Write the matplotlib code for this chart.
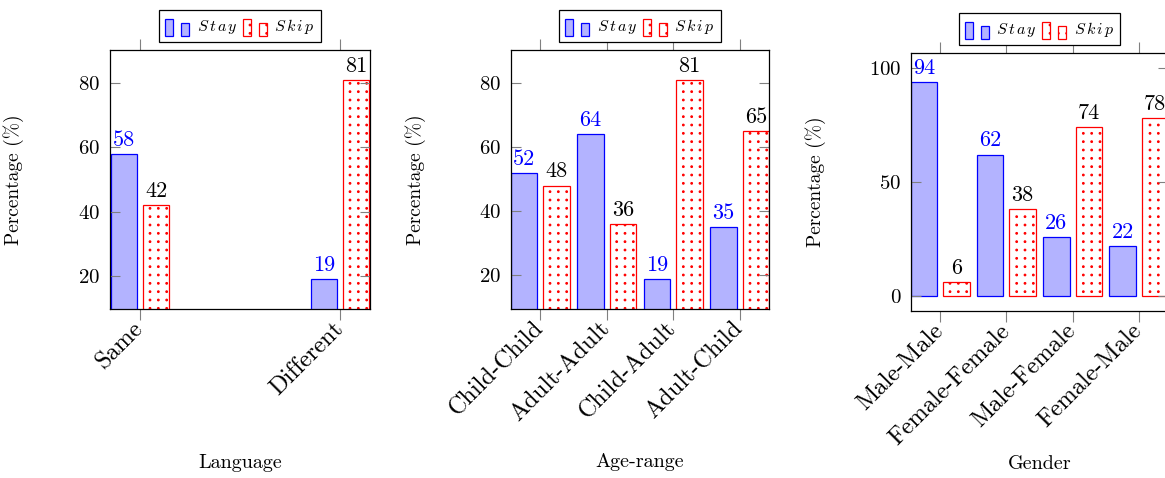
import matplotlib
matplotlib.use("Agg")
import matplotlib.pyplot as plt
import matplotlib.hatch as mhatch
import numpy as np
from matplotlib.patches import Rectangle
from matplotlib.legend_handler import HandlerBase

plt.rcParams["font.family"] = "cmr10"
plt.rcParams["mathtext.fontset"] = "cm"
plt.rcParams["axes.formatter.use_mathtext"] = True
plt.rcParams["hatch.linewidth"] = 0.8

# data
lang_cats = ["Same", "Different"]
lang_stay = [58, 19]
lang_skip = [42, 81]

age_cats = ["Child-Child", "Adult-Adult", "Child-Adult", "Adult-Child"]
age_stay = [52, 64, 19, 35]
age_skip = [48, 36, 81, 65]

gender_cats = ["Male-Male", "Female-Female", "Male-Female", "Female-Male"]
gender_stay = [94, 62, 26, 22]
gender_skip = [6, 38, 74, 78]

W, H = 1165, 478
STAY_FACE = "#b3b3ff"
TICK_GRAY = "#808080"


class GridDots(mhatch.SmallFilledCircles):
    # '.' hatch on a square grid (pgfplots "dots" pattern) instead of staggered rows
    def __init__(self, hatch, density):
        super().__init__(hatch, density)
        if self.num_rows:
            self.num_shapes = (self.num_rows + 1) ** 2
            self.num_vertices = self.num_shapes * len(self.shape_vertices)

    def set_vertices_and_codes(self, vertices, codes):
        offset = 1.0 / self.num_rows
        shape = self.shape_vertices * offset * self.size
        verts, cods = [], []
        for row in range(self.num_rows + 1):
            for col in np.linspace(0, 1, self.num_rows + 1):
                verts.append(shape + [col, row * offset])
                cods.append(self.shape_codes)
        np.concatenate(verts, out=vertices)
        np.concatenate(cods, out=codes)


mhatch._hatch_types[mhatch._hatch_types.index(mhatch.SmallFilledCircles)] = GridDots


class TwoBars(HandlerBase):
    # pgfplots-style ybar legend: a tall and a short bar
    def create_artists(self, legend, orig_handle, xdescent, ydescent,
                       width, height, fontsize, trans):
        w = width / 3
        y0 = -ydescent - 0.1 * height
        big = Rectangle((-xdescent, y0), w, height)
        small = Rectangle((-xdescent + width - w, y0), w, height * 0.72)
        for r in (big, small):
            r.update_from(orig_handle)
            r.set_transform(trans)
            r.set_clip_on(False)
        return [big, small]


def panel(fig, box, cats, stay, skip, xlim, ylim, yticks, xlabel):
    left, top, right, bottom = box
    ax = fig.add_axes([left / W, (H - bottom) / H, (right - left) / W,
                       (bottom - top) / H])
    ax.set_xlim(*xlim)
    ax.set_ylim(*ylim)

    px_per_unit = (right - left) / (xlim[1] - xlim[0])
    bw = 26.5 / px_per_unit
    off = 16.2 / px_per_unit
    x = list(range(len(cats)))

    b1 = ax.bar([i - off for i in x], stay, bw, color=STAY_FACE,
                edgecolor="blue", linewidth=0.9)
    b2 = ax.bar([i + off for i in x], skip, bw, color="white",
                edgecolor="red", hatch="..", linewidth=0.9)
    ax.bar_label(b1, padding=3, color="blue", fontsize=16)
    ax.bar_label(b2, padding=3, color="black", fontsize=16)

    ax.set_xticks(x)
    ax.set_xticklabels(cats, rotation=45, ha="right", va="center",
                       rotation_mode="anchor", fontsize=17.5)
    ax.set_yticks(yticks)
    ax.tick_params(axis="y", labelsize=15, pad=7)
    ax.tick_params(axis="x", direction="out", top=True, length=8,
                   width=0.8, color=TICK_GRAY, pad=4)
    ax.tick_params(axis="y", direction="in", right=True, length=7,
                   width=0.8, color=TICK_GRAY)

    for s in ax.spines.values():
        s.set_linewidth(0.9)
        s.set_color("black")

    ax.set_ylabel("Percentage (%)", fontsize=14)
    ax.yaxis.set_label_coords(-0.33, 0.5)
    ax.set_xlabel(xlabel, fontsize=14.5)
    ax.xaxis.set_label_coords(0.5, -0.56)

    leg = ax.legend([b1[0], b2[0]], ["$S\\,t\\,a\\,y$", "$S\\,k\\,i\\,p$"],
                    handler_map={Rectangle: TwoBars()},
                    loc="lower center", bbox_to_anchor=(0.5, 1.03), ncol=2,
                    fontsize=11.5, frameon=True, fancybox=False, framealpha=1,
                    edgecolor="black", handlelength=1.5, handleheight=1.25,
                    handletextpad=0.45, columnspacing=0.35, borderpad=0.4,
                    borderaxespad=0)
    leg.get_frame().set_linewidth(0.9)
    return ax


fig = plt.figure(figsize=(W / 100, H / 100), dpi=100)

panel(fig, (110, 50, 370, 309), lang_cats, lang_stay, lang_skip,
      (-0.15, 1.15), (9.7, 90.3), [20, 40, 60, 80], "Language")
panel(fig, (511, 50, 769, 308.5), age_cats, age_stay, age_skip,
      (-0.44, 3.44), (9.7, 90.3), [20, 40, 60, 80], "Age-range")
panel(fig, (911, 53, 1168, 311), gender_cats, gender_stay, gender_skip,
      (-0.44, 3.44), (-6.6, 106.6), [0, 50, 100], "Gender")

fig.savefig("out.png", dpi=100)
